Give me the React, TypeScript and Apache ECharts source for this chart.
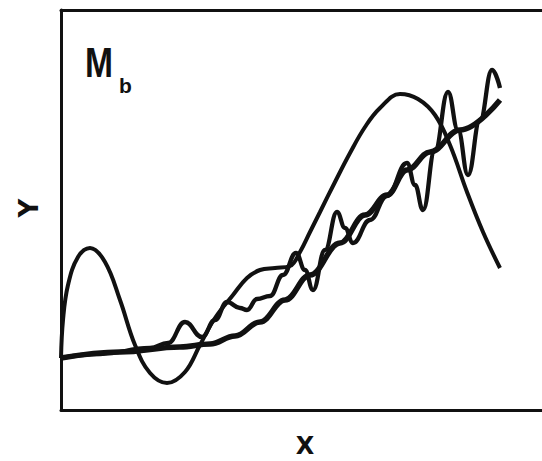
import React, { useEffect, useRef } from "react";
import * as echarts from "echarts";

// Data units: x in [0, 481], y in [0, 400]
const smoothX = [0, 59, 119, 149, 174, 199, 224, 249, 279, 304, 326, 346, 369, 399, 439];
const smoothY = [52, 58, 63, 66, 74, 88, 110, 135, 167, 195, 215, 240, 258, 280, 310];

const waveX = [0, 2, 7, 17, 29, 44, 59, 74, 89, 106, 124, 139, 154, 172, 186, 199, 214, 229, 239, 249, 259, 274, 289, 304, 319, 339, 357, 374, 389, 406, 422, 439];
const waveY = [52, 90, 125, 153, 162, 148, 110, 65, 37, 27, 38, 65, 92, 115, 132, 140, 142, 144, 158, 178, 198, 228, 257, 283, 302, 316, 311, 295, 265, 218, 178, 142];

const wiggleX = [0, 39, 89, 107, 124, 141, 154, 166, 179, 186, 196, 209, 222, 235, 244, 252, 264, 276, 284, 292, 309, 326, 346, 354, 362, 374, 387, 397, 407, 419, 431, 439];
const wiggleY = [52, 56, 62, 67, 88, 73, 90, 108, 102, 100, 111, 114, 135, 157, 140, 120, 160, 198, 182, 167, 190, 214, 247, 225, 200, 260, 318, 280, 235, 290, 340, 322];

const xName = "X";
const yName = "Y";
const titleMain = "M";
const titleSub = "b";

const zip = (xs: number[], ys: number[]) => xs.map((x, i) => [x, ys[i]]);

export default function App() {
  const ref = useRef<HTMLDivElement>(null);
  useEffect(() => {
    document.body.style.margin = "0";
    const chart = echarts.init(ref.current!, null, { renderer: "svg" });
    const ink = "#111";
    const axisCommon = {
      type: "value" as const,
      min: 0,
      max: 481,
      axisTick: { show: false },
      axisLabel: { show: false },
      splitLine: { show: false },
      axisLine: { show: true, lineStyle: { color: ink, width: 3 } },
    };
    chart.setOption({
      animation: false,
      backgroundColor: "#fff",
      grid: { left: 61, top: 10, right: 0, bottom: 51 },
      xAxis: [
        { ...axisCommon, position: "bottom" },
        { ...axisCommon, position: "top" },
      ],
      yAxis: {
        type: "value",
        min: 0,
        max: 400,
        axisTick: { show: false },
        axisLabel: { show: false },
        splitLine: { show: false },
        axisLine: { show: true, lineStyle: { color: ink, width: 3 } },
      },
      series: [
        {
          type: "line",
          data: zip(smoothX, smoothY),
          smooth: 0.4,
          smoothMonotone: "x",
          symbol: "none",
          lineStyle: { color: ink, width: 5.5 },
        },
        {
          type: "line",
          data: zip(waveX, waveY),
          smooth: 0.4,
          symbol: "none",
          lineStyle: { color: ink, width: 4 },
        },
        {
          type: "line",
          data: zip(wiggleX, wiggleY),
          smooth: 0.45,
          smoothMonotone: "x",
          symbol: "none",
          lineStyle: { color: ink, width: 4.3 },
        },
      ],
      graphic: [
        {
          type: "text",
          x: 85,
          y: 63,
          scaleX: 0.8,
          style: {
            text: titleMain,
            font: 'bold 42px "Liberation Sans", Arial, sans-serif',
            fill: ink,
            align: "left",
            verticalAlign: "middle",
          },
        },
        {
          type: "text",
          x: 119,
          y: 85,
          style: {
            text: titleSub,
            font: 'bold 21px "Liberation Sans", Arial, sans-serif',
            fill: ink,
            align: "left",
            verticalAlign: "middle",
          },
        },
        {
          type: "text",
          x: 29,
          y: 208,
          rotation: Math.PI / 2,
          style: {
            text: yName,
            font: 'bold 26px "DejaVu Sans", sans-serif',
            fill: ink,
            align: "center",
            verticalAlign: "middle",
          },
        },
        {
          type: "text",
          x: 305,
          y: 446,
          style: {
            text: xName,
            font: 'bold 24px "DejaVu Sans", sans-serif',
            fill: ink,
            align: "center",
            verticalAlign: "middle",
          },
        },
      ],
    });
    return () => chart.dispose();
  }, []);
  return <div ref={ref} style={{ width: 542, height: 461 }} />;
}
